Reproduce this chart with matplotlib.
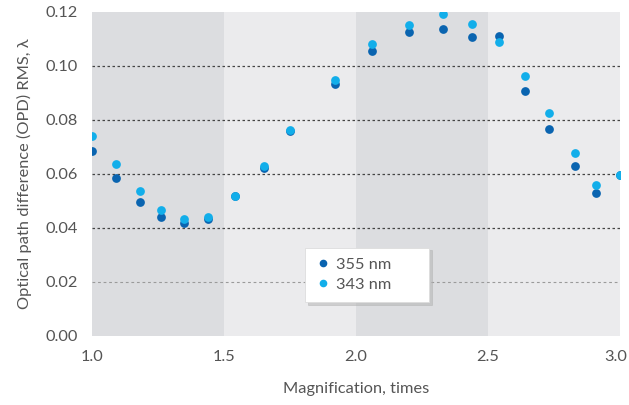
import matplotlib.pyplot as plt
from matplotlib.transforms import ScaledTranslation

# magnification values (times)
magnification = [1.00, 1.09, 1.18, 1.26, 1.35, 1.44, 1.54, 1.65, 1.75, 1.92,
                 2.06, 2.20, 2.33, 2.44, 2.54, 2.64, 2.73, 2.83, 2.91, 3.00]

# OPD RMS in waves
opd_355 = [0.0685, 0.0585, 0.0498, 0.0440, 0.0419, 0.0432, 0.0517, 0.0624, 0.0758, 0.0932,
           0.1057, 0.1126, 0.1138, 0.1108, 0.1110, 0.0909, 0.0768, 0.0629, 0.0528, 0.0597]
opd_343 = [0.0742, 0.0638, 0.0536, 0.0468, 0.0432, 0.0439, 0.0517, 0.0631, 0.0764, 0.0947,
           0.1080, 0.1152, 0.1192, 0.1154, 0.1088, 0.0964, 0.0825, 0.0677, 0.0558, 0.0597]

bands = [(1.0, 1.5, '#dcdde0'), (1.5, 2.0, '#ebebed'), (2.0, 2.5, '#dcdde0'), (2.5, 3.0, '#ebebed')]
yticks = [0.00, 0.02, 0.04, 0.06, 0.08, 0.10, 0.12]
xticks = [1.0, 1.5, 2.0, 2.5, 3.0]

plt.rcParams['font.family'] = ['Lato', 'DejaVu Sans']
text_color = '#555555'
fsize = 11.8

fig = plt.figure(figsize=(6.29, 4.05), dpi=100)
ax = fig.add_axes([0.1463, 0.1704, 0.8394, 0.8000])

# shaded bands
for x0, x1, c in bands:
    ax.axvspan(x0, x1, color=c, lw=0, zorder=0)

# gridlines
for y in yticks[1:-1]:
    if y == 0.02:
        ax.axhline(y, color='#9a9a9a', lw=0.8, ls=(0, (2.5, 2.5)), zorder=1)
    else:
        ax.axhline(y, color='#444444', lw=0.9, ls=(0, (2, 2)), zorder=1)

ax.plot(magnification, opd_355, 'o', color='#0a64b0', ms=6.3, mew=0, label='355 nm', zorder=3)
ax.plot(magnification, opd_343, 'o', color='#12aeea', ms=6.3, mew=0, label='343 nm', zorder=3)

ax.set_xlim(1.0, 3.0)
ax.set_ylim(0.0, 0.12)
ax.set_xticks(xticks)
ax.set_xticklabels([f'{v:.1f}' for v in xticks])
ax.set_yticks(yticks)
ax.set_yticklabels([f'{v:.2f}' for v in yticks])
ax.tick_params(length=0, labelsize=fsize, labelcolor=text_color)
ax.tick_params(axis='x', pad=10)
ax.tick_params(axis='y', pad=10)
for s in ax.spines.values():
    s.set_visible(False)

# keep the last x label inside the figure
last = ax.get_xticklabels()[-1]
last.set_transform(last.get_transform() + ScaledTranslation(-4 / 100, 0, fig.dpi_scale_trans))

ax.set_xlabel('Magnification, times', fontsize=fsize, color=text_color, labelpad=13)
ax.set_ylabel('Optical path difference (OPD) RMS, λ', fontsize=fsize, color=text_color, labelpad=10)

leg = ax.legend(loc='lower left', bbox_to_anchor=(0.403, 0.105, 0.235, 0.17), mode='expand',
                frameon=True, fancybox=False,
                shadow={'color': '#b0b0b0', 'ox': 2, 'oy': -2}, handletextpad=0.3,
                handlelength=1.0, borderpad=0.6, borderaxespad=0, labelspacing=0.35,
                prop={'size': fsize})
leg.get_frame().set_edgecolor('#dddddd')
leg.get_frame().set_linewidth(0.6)
leg.get_frame().set_alpha(1)
for t in leg.get_texts():
    t.set_color(text_color)
for h in leg.legend_handles:
    h.set_markersize(5.5)

fig.savefig('out.png', dpi=100)
